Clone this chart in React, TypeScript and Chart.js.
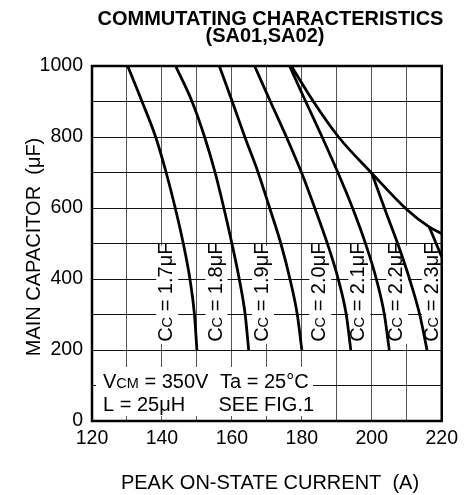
import React, { useEffect, useRef } from 'react';
import { Chart, registerables } from 'chart.js';

Chart.register(...registerables);

const FONT = '"Liberation Sans", Arial, Helvetica, sans-serif';

// Main capacitor levels (µF) shared by the full curves
const capLevels = [1000, 900, 800, 700, 600, 500, 400, 300, 200];
// Peak on-state current (A) for each Cc curve
const currentCc17 = [130.2, 134.3, 138.2, 141.2, 143.8, 146.1, 148.0, 149.3, 150.0];
const currentCc18 = [143.9, 148.6, 152.2, 155.2, 157.7, 160.0, 162.1, 163.8, 164.8];
const currentCc19 = [156.4, 160.1, 163.7, 167.5, 170.8, 174.0, 176.6, 178.7, 180.0];
const currentCc20 = [166.5, 171.0, 175.6, 179.9, 183.7, 187.3, 190.4, 192.7, 194.0];
const currentCc21 = [176.5, 181.1, 185.8, 190.3, 194.5, 198.2, 201.3, 203.6, 205.0];
const capCc22 = [698, 600, 500, 400, 300, 200];
const currentCc22 = [200.0, 203.6, 207.4, 210.8, 213.7, 215.8];
const capCc23 = [547, 505, 462];
const currentCc23 = [216.4, 218.2, 220.0];
const capEnvelope = [1000, 900, 800, 698, 596, 547, 528];
const currentEnvelope = [177.0, 183.3, 190.5, 200.0, 210.0, 216.4, 220.0];

const ccValues = ['1.7', '1.8', '1.9', '2.0', '2.1', '2.2', '2.3'];
// label anchors (data units): column centre current, start capacitance
const ccLabelCurrent = [141.5, 155.6, 168.9, 185.25, 196.45, 207.3, 217.45];
const ccLabelCap = 223;

const xMin = 120, xMax = 220, xStep = 10, xLabelStep = 20;
const yMin = 0, yMax = 1000, yStep = 100, yLabelStep = 200;

const toPts = (xs: number[], ys: number[]) => xs.map((x, i) => ({ x, y: ys[i] }));

function drawParts(ctx: CanvasRenderingContext2D, parts: [string, number, boolean?][], x: number, y: number) {
  let cx = x;
  for (const [t, size, bold] of parts) {
    ctx.font = `${bold ? 'bold ' : ''}${size}px ${FONT}`;
    ctx.fillText(t, cx, y);
    cx += ctx.measureText(t).width;
  }
}

const overlayPlugin = {
  id: 'overlay',
  beforeDatasetsDraw(chart: any) {
    const ctx: CanvasRenderingContext2D = chart.ctx;
    const xs = chart.scales.x, ys = chart.scales.y;
    ctx.save();
    ctx.fillStyle = '#fff';
    // annotation box
    ctx.fillRect(96, 367, 217, 49);
    // label backgrounds
    ccLabelCurrent.forEach((c) => {
      const cx = xs.getPixelForValue(c);
      const by = ys.getPixelForValue(ccLabelCap);
      ctx.fillRect(cx - 11, by - 96, 22, 98);
    });
    ctx.restore();
  },
  afterDatasetsDraw(chart: any) {
    const ctx: CanvasRenderingContext2D = chart.ctx;
    const { left, top, right, bottom } = chart.chartArea;
    const xs = chart.scales.x, ys = chart.scales.y;
    ctx.save();
    ctx.strokeStyle = '#000';
    ctx.lineWidth = 2.5;
    ctx.strokeRect(left, top, right - left, bottom - top);

    ctx.fillStyle = '#000';
    ctx.textBaseline = 'alphabetic';
    ctx.textAlign = 'left';
    // curve labels
    ccValues.forEach((v, i) => {
      const cx = xs.getPixelForValue(ccLabelCurrent[i]);
      const by = ys.getPixelForValue(ccLabelCap);
      ctx.save();
      ctx.translate(cx + 5, by);
      ctx.rotate(-Math.PI / 2);
      drawParts(ctx, [['C', 20], ['C', 14.5], [' = ' + v + 'μF', 20]], 0, 0);
      ctx.restore();
    });
    // annotation text
    drawParts(ctx, [['V', 20], ['CM', 14.5], [' = 350V', 20]], 103, 388);
    drawParts(ctx, [['Ta = 25°C', 20]], 220, 388);
    drawParts(ctx, [['L = 25μH', 20]], 103, 411);
    drawParts(ctx, [['SEE FIG.1', 20]], 218.5, 411);

    // titles
    ctx.textAlign = 'center';
    ctx.font = `bold 20px ${FONT}`;
    ctx.fillText('COMMUTATING CHARACTERISTICS', 270.5, 24.5);
    ctx.fillText('(SA01,SA02)', 265, 41.5);
    ctx.font = `20px ${FONT}`;
    ctx.fillText('PEAK ON-STATE CURRENT  (A)', 270, 488.5);
    ctx.save();
    ctx.translate(40, 247);
    ctx.rotate(-Math.PI / 2);
    ctx.fillText('MAIN CAPACITOR  (μF)', 0, 0);
    ctx.restore();
    ctx.restore();
  },
};

export default function App() {
  const ref = useRef<HTMLCanvasElement | null>(null);
  useEffect(() => {
    if (!ref.current) return;
    const line = (xs: number[], ys: number[]) => ({
      data: toPts(xs, ys),
      showLine: true,
      borderColor: '#000',
      backgroundColor: '#000',
      borderWidth: 2.8,
      pointRadius: 0,
      fill: false,
      cubicInterpolationMode: 'monotone' as const,
    });
    const chart = new Chart(ref.current, {
      type: 'scatter',
      data: {
        datasets: [
          line(currentCc17, capLevels),
          line(currentCc18, capLevels),
          line(currentCc19, capLevels),
          line(currentCc20, capLevels),
          line(currentCc21, capLevels),
          line(currentCc22, capCc22),
          line(currentCc23, capCc23),
          line(currentEnvelope, capEnvelope),
        ],
      },
      options: {
        responsive: false,
        animation: false,
        devicePixelRatio: 1,
        layout: { padding: { top: 66, right: 18, left: 0, bottom: 0 } },
        plugins: {
          legend: { display: false },
          tooltip: { enabled: false },
          title: { display: false },
        },
        scales: {
          x: {
            type: 'linear',
            min: xMin,
            max: xMax,
            ticks: {
              stepSize: xStep,
              autoSkip: false,
              maxRotation: 0,
              padding: 6,
              color: '#000',
              font: { family: FONT, size: 19.5 },
              callback: (v: any) => (Number(v) % xLabelStep === 0 ? String(v) : ''),
            },
            grid: { color: '#555', lineWidth: 1, drawTicks: false },
            border: { display: false },
            afterFit: (s: any) => { s.height = 74; },
          },
          y: {
            type: 'linear',
            min: yMin,
            max: yMax,
            ticks: {
              stepSize: yStep,
              autoSkip: false,
              padding: 9,
              color: '#000',
              font: { family: FONT, size: 19.5 },
              callback: (v: any) => (Number(v) % yLabelStep === 0 ? String(v) : ''),
            },
            grid: { color: '#111', lineWidth: 1, drawTicks: false },
            border: { display: false },
            afterFit: (s: any) => { s.width = 92; },
          },
        },
      },
      plugins: [overlayPlugin],
    });
    return () => chart.destroy();
  }, []);
  return (
    <div style={{ position: 'fixed', left: 0, top: 0, width: 464, height: 495, background: '#fff' }}>
      <canvas ref={ref} width={464} height={495} style={{ width: 464, height: 495, display: 'block' }} />
    </div>
  );
}
